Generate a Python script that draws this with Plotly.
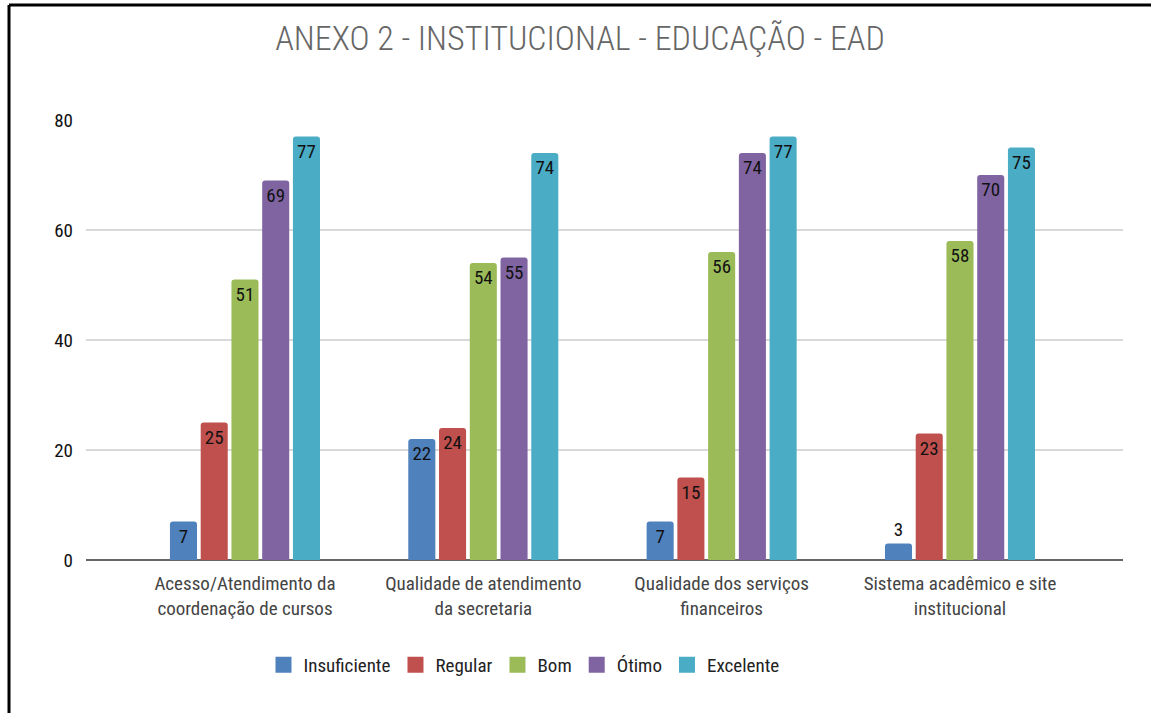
import plotly.graph_objects as go

# Survey categories (two-line labels on the x axis)
categories = [
    "Acesso/Atendimento da<br>coordenação de cursos",
    "Qualidade de atendimento<br>da secretaria",
    "Qualidade dos serviços<br>financeiros",
    "Sistema acadêmico e site<br>institucional",
]

# Responses per rating level
insuficiente = [7, 22, 7, 3]
regular = [25, 24, 15, 23]
bom = [51, 54, 56, 58]
otimo = [69, 55, 74, 70]
excelente = [77, 74, 77, 75]

series_names = ["Insuficiente", "Regular", "Bom", "Ótimo", "Excelente"]
series_values = [insuficiente, regular, bom, otimo, excelente]
series_colors = ["#4f81bd", "#c0504d", "#9bbb59", "#8064a2", "#4bacc6"]

y_ticks = [0, 20, 40, 60, 80]

FONT = "Roboto Condensed, Liberation Sans Narrow, Arial Narrow, sans-serif"

x_pos = list(range(len(categories)))

fig = go.Figure()
for name, vals, color in zip(series_names, series_values, series_colors):
    fig.add_trace(go.Bar(
        x=x_pos,
        y=vals,
        name=name,
        marker=dict(color=color, line=dict(width=0)),
        text=[str(v) for v in vals],
        textposition=["outside" if v < 6 else "inside" for v in vals],
        insidetextanchor="end",
        textangle=0,
        constraintext="none",
        textfont=dict(family=FONT, size=19, color="#111111"),
        cliponaxis=False,
        showlegend=False,
    ))
    # legend entry with a larger square swatch
    fig.add_trace(go.Scatter(
        x=[None], y=[None], mode="markers", name=name,
        marker=dict(symbol="square", size=16, color=color),
        showlegend=True,
    ))

L, R, T, B = 86, 28, 120, 153
W, H = 1151, 713
pw, ph = W - L - R, H - T - B

fig.update_layout(
    width=W,
    height=H,
    margin=dict(l=L, r=R, t=T, b=B),
    paper_bgcolor="white",
    plot_bgcolor="white",
    barmode="group",
    bargap=0.355,
    bargroupgap=0.12,
    barcornerradius=3,
    title=dict(
        text="ANEXO 2 - INSTITUCIONAL - EDUCAÇÃO - EAD",
        x=(580 - L) / pw, xref="paper", xanchor="center",
        y=1 - 38 / H, yanchor="middle",
        font=dict(family=FONT, size=34, color="#666666", weight=300),
    ),
    xaxis=dict(
        tickvals=x_pos,
        ticktext=categories,
        range=[-0.667, 3.684],
        showgrid=False,
        zeroline=False,
        showline=False,
        ticks="",
        ticklabelstandoff=10,
        tickfont=dict(family=FONT, size=19, color="#444444"),
    ),
    yaxis=dict(
        range=[0, 80],
        tickvals=y_ticks,
        showgrid=True,
        gridcolor="#d9d9d9",
        gridwidth=1.5,
        zeroline=True,
        zerolinecolor="#666666",
        zerolinewidth=2,
        ticks="",
        ticklabelstandoff=12,
        tickfont=dict(family=FONT, size=19, color="#111111"),
    ),
    legend=dict(
        orientation="h",
        x=(524 - L) / pw, xanchor="center",
        y=-(665 - (H - B)) / ph, yanchor="middle",
        font=dict(family=FONT, size=19, color="#222222"),
        itemsizing="trace",
        bgcolor="rgba(0,0,0,0)",
    ),
    shapes=[
        # frame lines along the top and left of the chart
        dict(type="line", xref="paper", yref="paper",
             x0=(9 - L) / pw, x1=(W - L) / pw,
             y0=(H - B - 5) / ph, y1=(H - B - 5) / ph,
             line=dict(color="black", width=3)),
        dict(type="line", xref="paper", yref="paper",
             x0=(9 - L) / pw, x1=(9 - L) / pw,
             y0=(H - B - 5) / ph, y1=-(B) / ph,
             line=dict(color="black", width=3)),
    ],
)

fig.write_html("out.html")
